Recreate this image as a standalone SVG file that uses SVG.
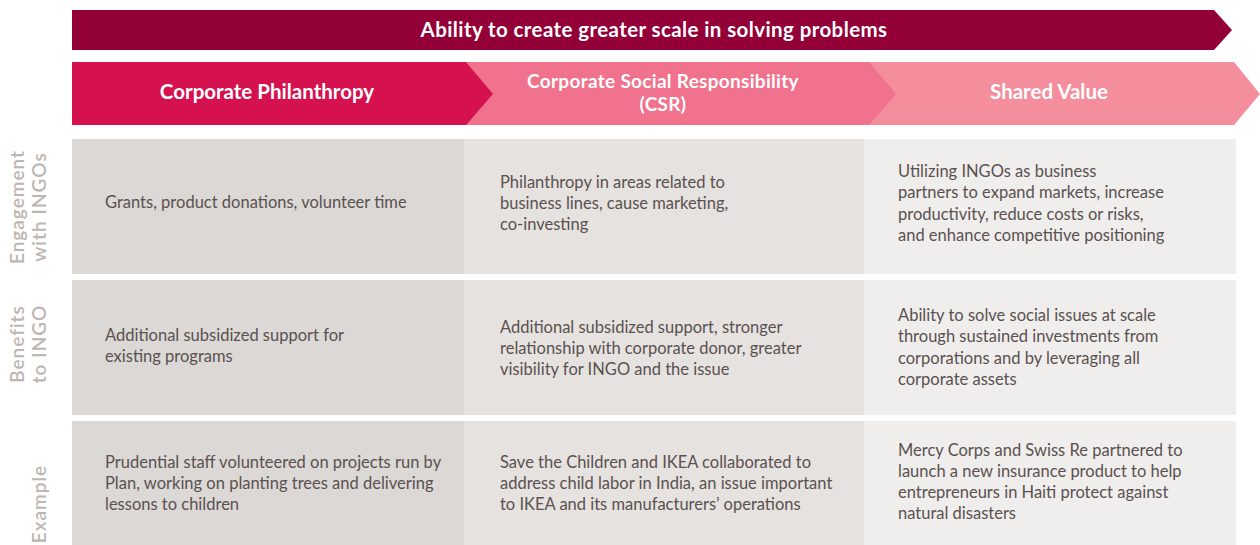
<svg xmlns="http://www.w3.org/2000/svg" width="1260" height="545" viewBox="0 0 1260 545">
<style>
.banner{fill:#930038}
.h1{fill:#D5114F}
.h2{fill:#F0728C}
.h3{fill:#F48E9D}
.c1{fill:#DCD8D5}
.c2{fill:#E6E2DF}
.c3{fill:#F0EEEC}
.ht{font-family:Lato,"Noto Sans",sans-serif;font-weight:bold;fill:#FFFFFF;font-size:20.5px;text-anchor:middle}
.bn{letter-spacing:0.4px}
.csr{font-size:19px;letter-spacing:0.3px}
.bt{font-family:Lato,"Noto Sans",sans-serif;fill:#5A5150;font-size:16.5px}
.rl{font-family:Lato,"Noto Sans",sans-serif;fill:#BDB6B2;font-size:19px;font-weight:600;letter-spacing:1px;text-anchor:middle}
</style>
<rect width="1260" height="545" fill="#FFFFFF"/>
<g id="banner">
<polygon class="banner" points="72,10 1214,10 1232,30 1214,50 72,50"/>
<text class="ht bn" x="654" y="37">Ability to create greater scale in solving problems</text>
</g>
<g id="header-shared-value">
<polygon class="h3" points="869,62 1234,62 1260,94 1234,125 869,125"/>
<text class="ht" x="1049" y="99">Shared Value</text>
</g>
<g id="header-csr">
<polygon class="h2" points="466,62 869,62 896,94 869,125 466,125"/>
<text class="ht csr" x="663" y="88">Corporate Social Responsibility</text>
<text class="ht csr" x="663" y="111">(CSR)</text>
</g>
<g id="header-philanthropy">
<polygon class="h1" points="72,62 466,62 493,94 466,125 72,125"/>
<text class="ht" x="267" y="99">Corporate Philanthropy</text>
</g>
<g id="label-engagement">
<text class="rl" transform="translate(24,207) rotate(-90)">Engagement</text>
<text class="rl" transform="translate(46,207) rotate(-90)">with INGOs</text>
</g>
<g id="label-benefits">
<text class="rl" transform="translate(24,344) rotate(-90)">Benefits</text>
<text class="rl" transform="translate(46,344) rotate(-90)">to INGO</text>
</g>
<g id="label-example">
<text class="rl" transform="translate(46,504) rotate(-90)">Example</text>
</g>
<g id="cell-r1c1">
<rect class="c1" x="72" y="139" width="392" height="135"/>
<text class="bt" x="105" y="208">Grants, product donations, volunteer time</text>
</g>
<g id="cell-r1c2">
<rect class="c2" x="464" y="139" width="400" height="135"/>
<text class="bt" x="500" y="188">Philanthropy in areas related to</text>
<text class="bt" x="500" y="209">business lines, cause marketing,</text>
<text class="bt" x="500" y="230">co-investing</text>
</g>
<g id="cell-r1c3">
<rect class="c3" x="864" y="139" width="372" height="135"/>
<text class="bt" x="898" y="177">Utilizing INGOs as business</text>
<text class="bt" x="898" y="198">partners to expand markets, increase</text>
<text class="bt" x="898" y="220">productivity, reduce costs or risks,</text>
<text class="bt" x="898" y="241">and enhance competitive positioning</text>
</g>
<g id="cell-r2c1">
<rect class="c1" x="72" y="280" width="392" height="135"/>
<text class="bt" x="105" y="341">Additional subsidized support for</text>
<text class="bt" x="105" y="362">existing programs</text>
</g>
<g id="cell-r2c2">
<rect class="c2" x="464" y="280" width="400" height="135"/>
<text class="bt" x="500" y="333">Additional subsidized support, stronger</text>
<text class="bt" x="500" y="354">relationship with corporate donor, greater</text>
<text class="bt" x="500" y="375">visibility for INGO and the issue</text>
</g>
<g id="cell-r2c3">
<rect class="c3" x="864" y="280" width="372" height="135"/>
<text class="bt" x="898" y="321">Ability to solve social issues at scale</text>
<text class="bt" x="898" y="342">through sustained investments from</text>
<text class="bt" x="898" y="364">corporations and by leveraging all</text>
<text class="bt" x="898" y="385">corporate assets</text>
</g>
<g id="cell-r3c1">
<rect class="c1" x="72" y="421" width="392" height="124"/>
<text class="bt" x="105" y="468">Prudential staff volunteered on projects run by</text>
<text class="bt" x="105" y="489">Plan, working on planting trees and delivering</text>
<text class="bt" x="105" y="510">lessons to children</text>
</g>
<g id="cell-r3c2">
<rect class="c2" x="464" y="421" width="400" height="124"/>
<text class="bt" x="500" y="468">Save the Children and IKEA collaborated to</text>
<text class="bt" x="500" y="489">address child labor in India, an issue important</text>
<text class="bt" x="500" y="510">to IKEA and its manufacturers’ operations</text>
</g>
<g id="cell-r3c3">
<rect class="c3" x="864" y="421" width="372" height="124"/>
<text class="bt" x="898" y="456">Mercy Corps and Swiss Re partnered to</text>
<text class="bt" x="898" y="477">launch a new insurance product to help</text>
<text class="bt" x="898" y="498">entrepreneurs in Haiti protect against</text>
<text class="bt" x="898" y="519">natural disasters</text>
</g>
<g id="connectors"></g>
</svg>
